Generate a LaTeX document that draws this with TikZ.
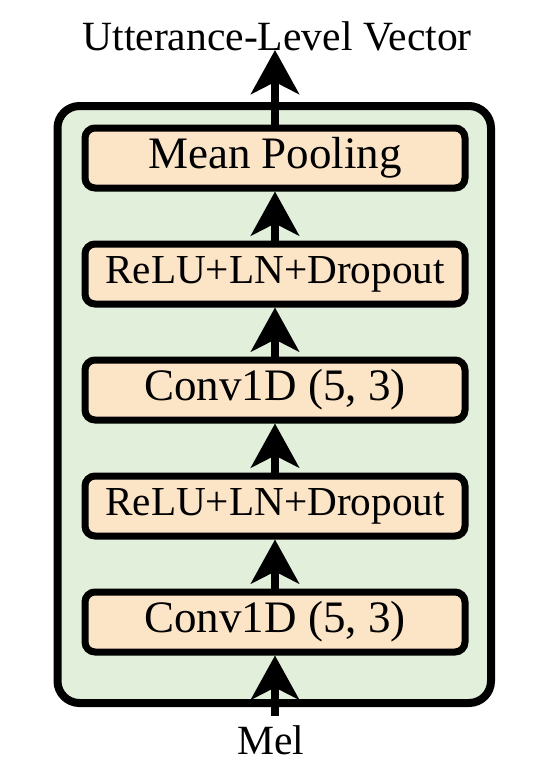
\documentclass[tikz,border=0pt]{standalone}
\usepackage{fontspec}
\setmainfont{Liberation Serif}
\usetikzlibrary{arrows.meta}
\definecolor{boxgreen}{RGB}{226,239,218}
\definecolor{boxpeach}{RGB}{252,228,199}
\begin{document}
\begin{tikzpicture}[x=0.5pt,y=-0.5pt,
  layer/.style={draw=black,line width=3.5pt,fill=boxpeach,rounded corners=5pt,
    minimum width=190pt,minimum height=30pt,inner sep=0pt,anchor=center},
  bigtxt/.style={font=\fontsize{22.5}{24}\selectfont},
  smalltxt/.style={font=\fontsize{20.6}{23}\selectfont},
  lbl/.style={font=\fontsize{20.8}{23}\selectfont,inner sep=0pt},
  flow/.style={line width=3.8pt,-{Stealth[length=22pt,width=24pt,inset=6pt]}}]
\useasboundingbox (0,0) rectangle (548,768);
\node[draw=black,line width=4pt,fill=boxgreen,rounded corners=11pt,
  minimum width=216.75pt,minimum height=298.5pt,inner sep=0pt] (outer) at (274.25,404.5) {};
\node[layer,bigtxt] (mp) at (275,158) {Mean Pooling};
\node[layer,smalltxt] (r1) at (275,274) {ReLU+LN+Dropout};
\node[layer,bigtxt] (c1) at (275,390) {Conv1D (5, 3)};
\node[layer,smalltxt] (r2) at (275,506) {ReLU+LN+Dropout};
\node[layer,bigtxt] (c2) at (275,622) {Conv1D (5, 3)};
\node[lbl] (out) at (277,36) {Utterance-Level Vector};
\node[lbl] (mel) at (271,740) {Mel};
\coordinate (outtip) at (275,50);
\coordinate (inbase) at (275,716);
\draw[flow] (mp.north) -- (outtip);
\draw[flow] (r1.north) -- (mp.south);
\draw[flow] (c1.north) -- (r1.south);
\draw[flow] (r2.north) -- (c1.south);
\draw[flow] (c2.north) -- (r2.south);
\draw[flow] (inbase) -- (c2.south);
\end{tikzpicture}
\end{document}
